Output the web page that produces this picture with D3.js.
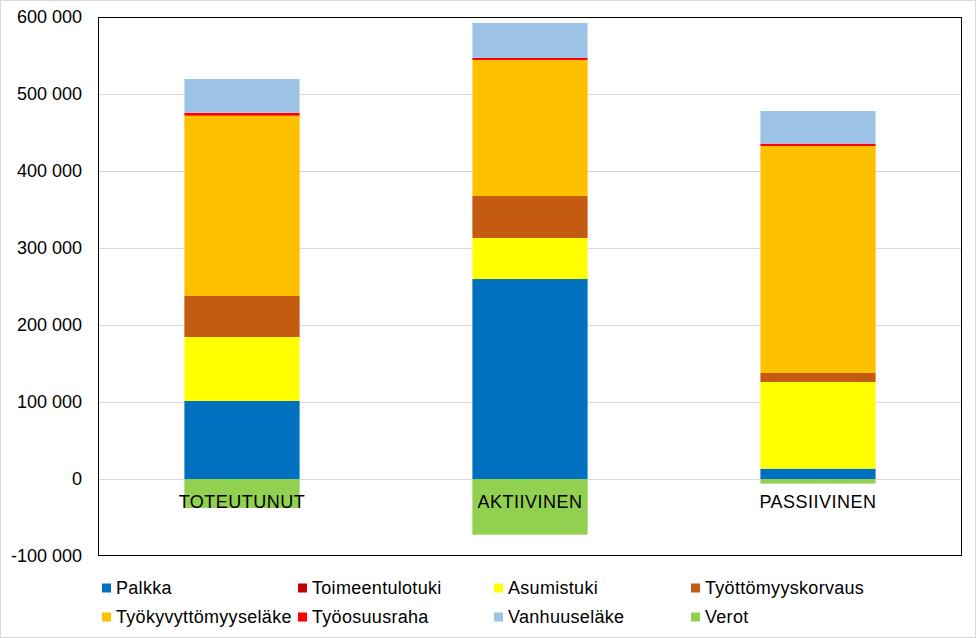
<!DOCTYPE html>
<html>
<head>
<meta charset="utf-8">
<script src="https://cdn.jsdelivr.net/npm/d3@7"></script>
<style>
  body { margin: 0; background: #fff; }
  svg { display: block; font-family: "Liberation Sans", Arial, sans-serif; }
</style>
</head>
<body>
<svg></svg>
<script>
let categories = ["TOTEUTUNUT", "AKTIIVINEN", "PASSIIVINEN"];
let seriesNames = ["Palkka", "Toimeentulotuki", "Asumistuki", "Työttömyyskorvaus",
                   "Työkyvyttömyyseläke", "Työosuusraha", "Vanhuuseläke", "Verot"];
let seriesColors = ["#0070C0", "#C00000", "#FFFF00", "#C55A11",
                    "#FFC000", "#FF0000", "#9DC3E6", "#92D050"];

let palkka = [101300, 259700, 13400];
let toimeentulotuki = [0, 0, 0];
let asumistuki = [83100, 53300, 112600];
let tyottomyyskorvaus = [53300, 54500, 11700];
let tyokyvyttomyyselake = [234100, 176700, 294800];
let tyoosuusraha = [3900, 2600, 3000];
let vanhuuselake = [43800, 45400, 42400];
let verot = [-37700, -72300, -6000];

let yTicks = [-100000, 0, 100000, 200000, 300000, 400000, 500000, 600000];

let width = 976;
let height = 638;
let plotLeft = 98, plotRight = 962, plotTop = 17, plotBottom = 556;
let fontSize = 18;
let svg = d3.select('svg').attr('width', width).attr('height', height);

let seriesValues = [palkka, toimeentulotuki, asumistuki, tyottomyyskorvaus,
                    tyokyvyttomyyselake, tyoosuusraha, vanhuuselake, verot];

let rows = categories.map((c, i) => {
    let r = { cat: c };
    seriesNames.forEach((s, j) => r[s] = seriesValues[j][i]);
    return r;
});

let stacked = d3.stack()
    .keys(seriesNames)
    .offset(d3.stackOffsetDiverging)(rows);

let xScale = d3.scaleBand().domain(categories).range([plotLeft, plotRight]).paddingInner(0.6).paddingOuter(0.3);
let yScale = d3.scaleLinear().domain([-100000, 600000]).range([plotBottom, plotTop]);

// outer border
svg.append('rect')
   .attr('x', 0.5).attr('y', 0.5)
   .attr('width', width - 1).attr('height', height - 1)
   .attr('fill', '#fff').attr('stroke', '#d9d9d9');

// gridlines
svg.append('g')
   .selectAll('line')
   .data(yTicks.filter(t => t !== -100000 && t !== 600000))
   .enter()
   .append('line')
   .attr('x1', plotLeft).attr('x2', plotRight)
   .attr('y1', d => Math.round(yScale(d)) + 0.5)
   .attr('y2', d => Math.round(yScale(d)) + 0.5)
   .attr('stroke', '#d9d9d9');

// bars
svg.append('g')
   .selectAll('g')
   .data(stacked)
   .enter()
   .append('g')
   .attr('fill', (d, i) => seriesColors[i])
   .selectAll('rect')
   .data(d => d)
   .enter()
   .append('rect')
   .attr('x', d => xScale(d.data.cat))
   .attr('width', xScale.bandwidth())
   .attr('y', d => yScale(Math.max(d[0], d[1])))
   .attr('height', d => Math.abs(yScale(d[0]) - yScale(d[1])));

// frame
svg.append('rect')
   .attr('x', plotLeft + 0.5).attr('y', plotTop + 0.5)
   .attr('width', plotRight - plotLeft - 1).attr('height', plotBottom - plotTop - 1)
   .attr('fill', 'none').attr('stroke', '#000');

// y axis labels
let fmt = v => d3.format(',')(v).replace(/,/g, ' ').replace('−', '-');
let yAxis = d3.axisLeft(yScale).tickValues(yTicks).tickSize(0).tickPadding(16).tickFormat(fmt);
svg.append('g')
   .attr('transform', 'translate(' + plotLeft + ',0)')
   .call(yAxis)
   .call(g => g.select('.domain').remove())
   .selectAll('text')
   .attr('font-size', fontSize)
   .attr('font-family', '"Liberation Sans", Arial, sans-serif')
   .attr('fill', '#000');

// category labels (axis crosses at 0)
let xAxis = d3.axisBottom(xScale).tickSize(0).tickPadding(16);
svg.append('g')
   .attr('transform', 'translate(0,' + yScale(0) + ')')
   .call(xAxis)
   .call(g => g.select('.domain').remove())
   .selectAll('text')
   .attr('font-size', fontSize)
   .attr('letter-spacing', 0.5)
   .attr('font-family', '"Liberation Sans", Arial, sans-serif')
   .attr('fill', '#000');

// legend
let legend = svg.append('g');
let colX = [102, 298, 494, 691];
let rowY = [588, 617];
seriesNames.forEach((s, i) => {
    let x = colX[i % 4];
    let y = rowY[Math.floor(i / 4)];
    legend.append('rect')
          .attr('x', x).attr('y', y - 4.5)
          .attr('width', 9).attr('height', 9)
          .attr('fill', seriesColors[i]);
    legend.append('text')
          .attr('x', x + 14).attr('y', y)
          .attr('dy', '0.35em')
          .attr('font-size', fontSize)
          .attr('letter-spacing', 0.3)
          .attr('fill', '#000')
          .text(s);
});
</script>
</body>
</html>
